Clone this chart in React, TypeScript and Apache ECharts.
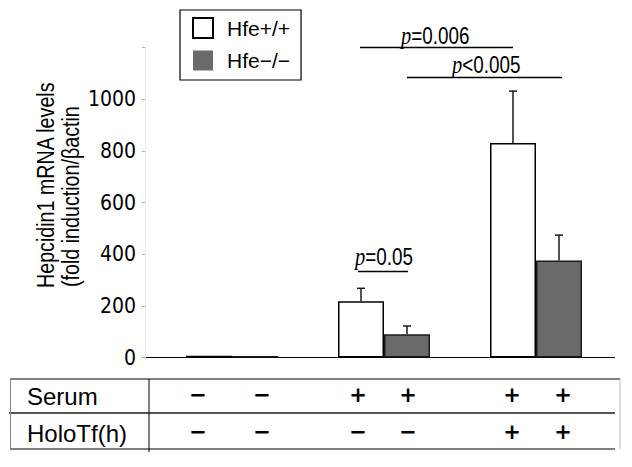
import React, { useEffect, useRef } from "react";
import * as echarts from "echarts";

// ---- data ----
const categories = ["Control", "Serum", "Serum + HoloTf"];
const seriesNames = ["Hfe+/+", "Hfe\u2212/\u2212"];
const wildType = [7, 218, 831];
const knockout = [6, 90, 376];
const wildTypeErr = [0, 50, 201];
const knockoutErr = [0, 32, 98];
const yMax = 1200;
const yInterval = 200;
const tableRowLabels = ["Serum", "HoloTf(h)"];
const serumRow = ["\u2212", "\u2212", "+", "+", "+", "+"];
const holoRow = ["\u2212", "\u2212", "\u2212", "\u2212", "+", "+"];
const pLabels = [
  { pre: "p", rel: "=0.006" },
  { pre: "p", rel: "<0.005" },
  { pre: "p", rel: "=0.05" },
];
const yAxisTitle = ["Hepcidin1 mRNA levels", "(fold induction/\u03b2actin"];

// ---- layout ----
const COND = "'DejaVu Sans Condensed', 'Liberation Sans', sans-serif";
const SANS = "'Liberation Sans', Arial, sans-serif";
const NARROW_SCALE = 0.82;
const BAR_W = 46;
const GREY = "#6a6a6a";
const symbolX = [198, 262, 358, 408, 512, 563];
const rowY = [395, 432];
const pPos = [
  { x: 401, y: 36, line: [360, 513, 47.5] },
  { x: 452, y: 65, line: [407, 562, 77.5] },
  { x: 355, y: 257, line: [358, 408, 271.5] },
];

function errorSeries(name: string, means: number[], errs: number[], offset: number) {
  return {
    type: "custom",
    name: name + " err",
    z: 5,
    data: means.map((m, i) => [i, m, errs[i]]),
    renderItem: (params: any, api: any) => {
      const idx = api.value(0);
      const mean = api.value(1);
      const err = api.value(2);
      if (!err) return null;
      const base = api.coord([idx, mean]);
      const top = api.coord([idx, mean + err]);
      const x = base[0] + offset;
      const st = { stroke: "#1a1a1a", lineWidth: 1.5 };
      return {
        type: "group",
        children: [
          { type: "line", shape: { x1: x, y1: base[1], x2: x, y2: top[1] }, style: st },
          { type: "line", shape: { x1: x - 4, y1: top[1], x2: x + 4, y2: top[1] }, style: st },
        ],
      };
    },
  };
}

export default function App() {
  const ref = useRef<HTMLDivElement>(null);
  useEffect(() => {
    if (!ref.current) return;
    const chart = echarts.init(ref.current, null, { renderer: "svg" });

    const graphics: any[] = [];
    // baseline
    graphics.push({ type: "line", shape: { x1: 145, y1: 357.5, x2: 615, y2: 357.5 }, style: { stroke: "#000", lineWidth: 1.2 } });
    // y axis title (narrow sans)
    yAxisTitle.forEach((t, i) => {
      graphics.push({
        type: "text",
        x: i === 0 ? 46 : 71,
        y: i === 0 ? 288 : 287,
        rotation: Math.PI / 2,
        scaleX: NARROW_SCALE,
        style: { text: t, font: `24px ${SANS}`, fill: "#000", align: "left", verticalAlign: "middle" },
      });
    });
    // significance annotations
    pLabels.forEach((p, i) => {
      const pos = pPos[i];
      graphics.push({
        type: "text",
        x: pos.x,
        y: pos.y,
        scaleX: NARROW_SCALE,
        style: {
          text: `{i|${p.pre}}{n|${p.rel}}`,
          align: "left",
          verticalAlign: "middle",
          rich: {
            i: { fontFamily: "'Liberation Serif', serif", fontStyle: "italic", fontSize: 25, fill: "#000" },
            n: { fontFamily: SANS, fontSize: 23, fill: "#000" },
          },
        },
      });
      graphics.push({
        type: "line",
        shape: { x1: pos.line[0], y1: pos.line[2], x2: pos.line[1], y2: pos.line[2] },
        style: { stroke: "#000", lineWidth: 1.5 },
      });
    });
    // table
    const tl = (x1: number, y1: number, x2: number, y2: number, stroke: string, w: number) =>
      graphics.push({ type: "line", shape: { x1, y1, x2, y2 }, style: { stroke, lineWidth: w } });
    tl(10, 379, 620, 379, "#000", 1.2);
    tl(9, 413, 615, 413, "#555", 2);
    tl(10, 449, 615, 449, "#000", 1.2);
    tl(10.5, 379, 10.5, 449, "#888", 1);
    tl(149, 379, 149, 452, "#000", 1);
    tl(620, 379, 620, 449, "#bbb", 1);
    tableRowLabels.forEach((t, i) => {
      graphics.push({
        type: "text",
        x: 27,
        y: rowY[i] + 1,
        style: { text: t, font: `24px ${SANS}`, fill: "#000", align: "left", verticalAlign: "middle" },
      });
    });
    [serumRow, holoRow].forEach((row, r) => {
      row.forEach((s, i) => {
        graphics.push({
          type: "text",
          x: symbolX[i],
          y: rowY[r],
          style: { text: s, font: `bold 21px 'DejaVu Sans', sans-serif`, fill: "#000", align: "center", verticalAlign: "middle" },
        });
      });
    });

    chart.setOption({
      animation: false,
      backgroundColor: "#fff",
      grid: { left: 156, right: 20, top: 47.7, bottom: 109.5, containLabel: false },
      legend: {
        left: 180,
        top: 10,
        orient: "vertical",
        data: [
          { name: seriesNames[0] },
          { name: seriesNames[1], itemStyle: { borderWidth: 0 } },
        ],
        icon: "rect",
        itemWidth: 20,
        itemHeight: 20,
        itemGap: 11,
        padding: [7, 11, 9, 12],
        borderColor: "#000",
        borderWidth: 1.2,
        selectedMode: false,
        textStyle: { fontFamily: SANS, fontSize: 21, color: "#000", padding: [0, 0, 0, 9] },
      },
      xAxis: {
        type: "category",
        data: categories,
        axisLine: { show: false },
        axisTick: { show: false },
        axisLabel: { show: false },
        splitLine: { show: false },
      },
      yAxis: {
        type: "value",
        min: 0,
        max: yMax,
        interval: yInterval,
        offset: 11,
        axisLine: { show: true, lineStyle: { color: "#ececec", width: 1 } },
        axisTick: { show: true, length: 3, lineStyle: { color: "#aaa" } },
        splitLine: { show: false },
        axisLabel: {
          fontFamily: COND,
          fontSize: 21,
          color: "#000",
          margin: 9,
          formatter: (v: number) => (v >= yMax ? "" : String(v)),
        },
      },
      series: [
        {
          type: "bar",
          name: seriesNames[0],
          data: wildType,
          barWidth: BAR_W,
          barGap: "0%",
          itemStyle: { color: "#fff", borderColor: "#000", borderWidth: 1.5 },
        },
        {
          type: "bar",
          name: seriesNames[1],
          data: knockout,
          barWidth: BAR_W,
          barGap: "0%",
          itemStyle: { color: GREY, borderColor: "#1a1a1a", borderWidth: 1.5 },
        },
        errorSeries(seriesNames[0], wildType, wildTypeErr, -BAR_W / 2),
        errorSeries(seriesNames[1], knockout, knockoutErr, BAR_W / 2),
      ],
      graphic: graphics,
    });
    return () => chart.dispose();
  }, []);
  return (
    <div
      ref={ref}
      style={{ width: 632, height: 467, position: "fixed", left: 0, top: 0, background: "#fff" }}
    />
  );
}
